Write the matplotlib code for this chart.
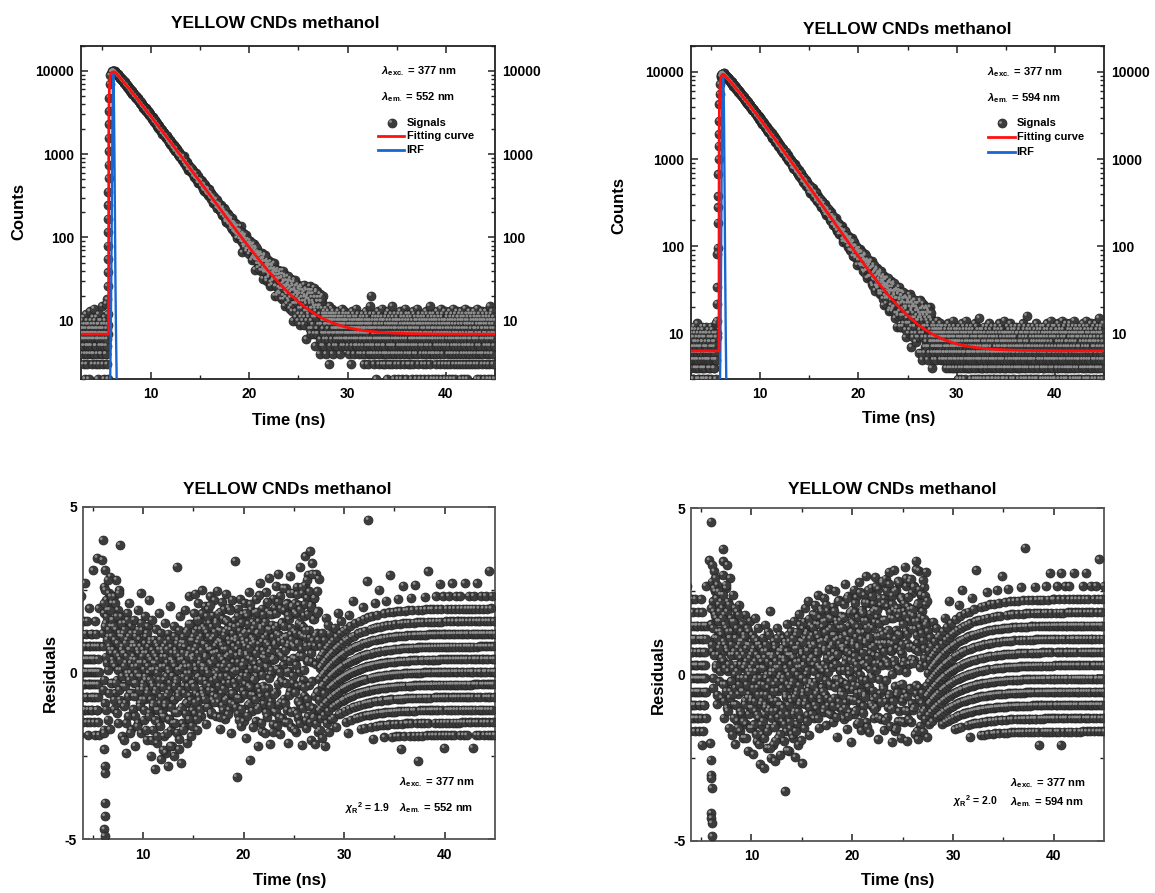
import numpy as np
import matplotlib
matplotlib.use("Agg")
import matplotlib.pyplot as plt
from matplotlib.lines import Line2D
from matplotlib.transforms import ScaledTranslation
from matplotlib.ticker import FixedLocator, FuncFormatter, NullFormatter

plt.rcParams.update({
    "font.family": ["Liberation Sans", "DejaVu Sans"],
    "font.weight": "bold",
    "axes.labelweight": "bold",
    "axes.unicode_minus": False,
    "mathtext.fontset": "custom",
    "mathtext.rm": "Liberation Sans",
    "mathtext.it": "Liberation Sans:italic",
    "mathtext.bf": "Liberation Sans:bold",
})

# ------------------------------------------------------------------ data
title = "YELLOW CNDs methanol"
lambda_exc = [377, 377]
lambda_em = [552, 594]
chi2_red = [1.9, 2.0]

# fitting-curve parameters (left = 552 nm, right = 594 nm)
fit_bg = [6.9, 6.3]
fit_amp = [9700.0, 9420.0]
fit_t_on = [5.68, 5.80]
fit_t_peak = [6.30, 6.24]
fit_rise = [0.08, 0.08]
fit_tau = [3.03, 3.20]
fit_beta = [1.06, 1.09]

# IRF (blue)
irf_t_552 = [5.80, 5.88, 5.95, 6.02, 6.08, 6.14, 6.20, 6.26, 6.32, 6.38, 6.44, 6.50, 6.56]
irf_c_552 = [1, 4, 30, 400, 3500, 9600, 7000, 1500, 200, 25, 6, 2, 1]
irf_t_594 = [5.86, 5.93, 6.00, 6.06, 6.12, 6.18, 6.24, 6.30, 6.36, 6.42, 6.48, 6.54, 6.60]
irf_c_594 = [1, 5, 40, 500, 3800, 8900, 9400, 4000, 600, 70, 12, 3, 1]

# rising-edge signal points
rise_t_552 = [5.56, 5.58, 5.60, 5.61, 5.62, 5.63, 5.64, 5.65, 5.66, 5.67, 5.68, 5.69,
              5.70, 5.72, 5.74, 5.76, 5.79, 5.83]
rise_c_552 = [18, 26, 38, 55, 80, 116, 168, 244, 354, 513, 744, 1080, 1560, 2270, 3290,
              4770, 6910, 8800]
rise_t_594 = [5.55, 5.57, 5.59, 5.61, 5.63, 5.65, 5.67, 5.69, 5.71, 5.73, 5.75, 5.77,
              5.79, 5.81, 5.84, 5.87, 5.90]
rise_c_594 = [9, 14, 22, 34, 82, 96, 187, 279, 376, 672, 1000, 1420, 1930, 2740, 4260,
              5550, 7230]

# pre-pulse background counts (one base-36 character per channel)
pre_span = [(2.90, 5.65), (2.95, 5.55)]
pre_counts_552 = ("7596a48763" "b58692747c" "6835a97465" "29786d5847" "a6579384b6"
                  "7e4869a573" "58b7642896" "c6937a5847" "6a48f59736" "8527b69a44"
                  "7g5836c927")
pre_counts_594 = ("6847a5936b" "3795c68a42" "7b58649d37" "5a6483b796" "26957a4c83"
                  "8b4695a372" "49c6785a36" "7a35b64298" "5684a7c391" "6b7925846a"
                  "47865d395a")

# decay region: weighted residuals (tenths) of the signal channels, two interleaved
# channel sets covering 6.0-27.5 ns
cloud_span_a = (6.0, 27.5)
cloud_span_b = (6.025, 27.525)
cloud_res_552 = [
    12, -5, 18, 26, -9, 31, 15, 22, 3, 19, -14, 11, 24, 8, -17, 29, 14, 6, 21, -3,
    16, 7, -11, 23, 2, -6, 13, 28, -2, 9, 19, -15, 5, 25, -8, 11, 1, 17, -19, 8,
    -4, 12, -20, 6, 15, -9, 3, -24, 10, 18, -1, -13, 7, 21, -6, 0, 14, -17, 4, 9,
    -11, 5, 16, -3, -22, 8, 12, -7, 2, 19, -15, 6, -1, 10, -9, 24, -18, 3, 13, -5,
    7, -14, 1, 17, -8, -2, 11, -20, 6, 14, -5, 0, 22, -12, 9, -25, 4, 16, -3, -10,
    -17, 3, 10, -29, -6, 13, 5, -11, -21, 8, 1, -15, 18, -4, -9, 12, -26, 2, 7, -13,
    6, -19, -2, 15, -10, -24, 9, -7, 3, -28, 12, -14, 0, 20, -5, -17, 8, -22, 4, -1,
    -8, 14, -25, 2, -12, 7, -3, 32, -18, 10, -6, -23, 5, 17, -11, 1, -27, 9, -15, 4,
    11, -4, -16, 8, 19, -9, 2, -21, 13, -2, 6, -14, 23, -7, 0, 15, -19, 5, -11, 10,
    -3, 18, 7, -12, 24, -6, 1, 13, -17, 9, 21, -1, -8, 16, 4, -13, 11, 25, -5, 2,
    14, -7, 9, 20, -2, 5, -15, 12, 1, 19, -10, 7, 15, -4, 23, -12, 3, 10, -8, 17,
    -5, 11, 22, 0, 8, -13, 16, -1, 25, 6, -9, 13, 2, -17, 18, 9, -6, 21, 4, -11,
    7, 19, -3, 12, -14, 24, 5, -8, 15, 1, 20, -11, 9, -2, 13, -18, 6, 22, -6, 10,
    3, -9, 16, 34, -4, 10, -31, 7, 19, -12, 1, 14, -7, 22, 5, -16, 11, -1, 18, 2,
    -14, 9, 21, -3, 13, -20, 6, 17, 0, -9, 24, 4, -26, 12, -5, 19, 8, -11, 15, -2,
    10, -6, 18, 3, -15, 22, -1, 12, -22, 7, 16, -10, 27, 1, -7, 14, -18, 20, 5, -3,
    -9, 15, 6, -18, 24, 2, 11, -13, 19, -4, 8, 28, -21, 13, 0, -8, 17, 4, -15, 22,
    5, -12, 20, 9, -5, 26, -16, 14, 1, 30, -9, 11, -19, 23, 6, -2, 16, -13, 10, 3,
    -7, 18, 11, -15, 25, 3, -10, 21, 7, -20, 15, 0, 29, -6, 12, -17, 19, 8, -3, 24,
    13, -11, 22, 5, -18, 17, 27, -4, 9, -14, 20, 1, 31, -9, 15, 6, -21, 24, 11, -2,
    18, -8, 25, 35, 10, -16, 22, 4, -12, 29, 14, -5, 38, 7, -19, 21, 2, 33, -10, 16,
    -14, 24, 9, -20, 30, 12, -7, 19, -17, 27]
cloud_res_552b = [
    8, 21, -2, 14, 25, 5, -11, 17, 10, 28, 1, 13, -6, 19, 7, 23, -3, 11, 16, 4,
    3, 14, -8, 10, 21, -3, 6, 17, -12, 9, 1, 24, -5, 12, 4, -9, 15, 7, -1, 11,
    6, -10, 2, 13, -4, 9, -15, 5, 0, 16, -7, 11, -2, 7, -18, 3, 12, -6, 8, -1,
    2, -7, 9, -13, 4, 11, -3, 0, -16, 7, 13, -5, 3, -10, 8, -1, 15, -8, 5, -4,
    -3, 6, -11, 9, -1, 3, -17, 12, -6, 2, 8, -13, 5, -2, 10, -8, 1, -20, 7, -4,
    -9, 1, 6, -14, 3, -5, 9, -19, 0, 4, -11, 7, -2, -16, 10, -7, 2, -12, 5, -23,
    -4, 8, -13, 2, -9, 5, -1, -18, 7, -6, 1, -14, 10, -3, -22, 4, -10, 6, -1, -15,
    3, -8, 11, -4, -15, 6, -2, 9, -12, 1, -7, 13, -20, 4, -5, 8, -10, 2, -17, 6,
    -1, 9, -6, 3, -12, 12, 0, -9, 5, -4, 15, -14, 2, 7, -8, 10, -3, -16, 4, 11,
    5, -4, 12, -9, 2, 8, -14, 16, -1, 6, -7, 10, 3, -11, 13, -2, 7, 18, -6, 1,
    9, 2, -8, 13, 5, -3, 17, -10, 8, 0, 11, -5, 20, 3, -12, 7, 14, -2, 6, -7,
    4, -9, 12, 6, -2, 15, -7, 9, 1, 18, -4, 10, -13, 5, 13, -1, 8, -10, 16, 2,
    -5, 11, 3, -8, 16, 7, -1, 13, -12, 5, 10, -3, 19, 2, -9, 14, 6, -6, 12, 0,
    8, -3, 14, 1, -10, 11, 5, -7, 17, 3, -14, 9, 13, -2, 6, -11, 15, 2, -5, 10,
    3, 12, -6, 8, 18, -1, 5, -13, 10, 15, -4, 7, -9, 21, 2, -7, 11, 4, -16, 13,
    -2, 9, 15, -8, 6, 1, 19, -11, 12, -4, 8, 23, -6, 3, 14, -15, 10, -1, 7, 17,
    11, -5, 4, 16, -12, 9, 2, 21, -7, 13, -2, 6, 18, -10, 7, 1, 15, -17, 10, 4,
    -6, 13, 8, -11, 17, 2, 12, -4, 22, 6, -13, 10, 1, 19, -8, 14, 5, -2, 25, 9,
    15, -9, 6, 20, -3, 11, 1, -14, 17, 8, -6, 24, 3, 13, -11, 9, 21, -1, 5, -16,
    7, 18, -5, 12, 2, -12, 23, 9, -8, 16, 4, -15, 20, 11, -3, 26, 6, -10, 14, 1,
    -4, 21, 13, -13, 8, 28, -7, 17, 3, -10, 24, 11, -16, 19, 6, -2, 30, 9, -12, 15,
    22, -8, 12, 3, -15, 18, 26, -5, 10, -11]
cloud_res_594 = [
    15, 28, 7, 22, -4, 19, 31, 11, 25, 2, 17, -9, 27, 13, 6, 21, -2, 16, 9, 24,
    12, -7, 20, 30, 4, -13, 18, 9, -3, 26, 14, -10, 7, 22, 1, -16, 11, 29, -5, 17,
    -2, 13, -18, 24, 6, -9, 16, 0, -21, 11, 3, 19, -14, 8, -6, 21, -1, -17, 10, 5,
    -12, 7, 15, -5, -19, 2, 11, -8, 18, -15, 4, -1, 9, -23, 13, -6, 0, 16, -10, 6,
    -7, 12, -16, 3, -24, 8, -2, 17, -11, 1, -20, 10, -4, 14, -13, 5, -27, 9, -1, -15,
    4, -18, -6, 11, -28, 2, -12, 15, -9, -1, 7, -22, 13, -4, -16, 6, -10, 19, -25, 0,
    -13, 5, -8, -21, 10, -3, -26, 8, -15, 2, -11, 14, -5, -19, 6, -1, 12, -24, 3, -9,
    7, -14, -2, 11, -20, 4, -35, 9, -7, -17, 15, 1, -12, 6, -23, 10, -4, -16, 13, -8,
    -3, 9, -19, 5, 16, -11, 1, -25, 12, -6, -15, 8, 2, -21, 18, -9, 4, -13, 10, -1,
    6, -27, 14, -5, 3, -16, 11, 20, -8, 0, 13, -12, 7, 22, -4, -18, 9, 15, -2, 5,
    12, -7, 18, 3, -13, 9, 21, -2, 15, -10, 6, 24, -5, 11, -16, 2, 17, -8, 8, 19,
    -4, 14, 1, -11, 23, 7, -6, 16, -15, 10, 2, 19, -9, 13, 26, -3, 8, -12, 17, 4,
    9, -14, 20, 5, -7, 12, 25, -1, 16, -19, 6, 11, -3, 22, -10, 14, 1, -6, 18, 8,
    -2, 17, 7, -13, 21, 3, 27, -8, 12, -16, 9, 24, -4, 15, 0, -11, 19, 6, -20, 13,
    16, -5, 10, 26, -12, 4, 19, -8, 23, 1, -15, 14, 8, -3, 28, -9, 12, 5, -17, 20,
    3, 18, -10, 13, 24, -6, 9, 29, -14, 16, 2, -4, 21, 11, -18, 15, 7, -1, 26, -9,
    14, -7, 22, 6, -13, 19, 30, 1, -10, 17, 9, -19, 25, 4, 12, -5, 21, -14, 8, 28,
    -3, 16, 10, -17, 23, 5, 29, -8, 13, -12, 20, 2, -6, 27, 11, -15, 18, 7, -20, 24,
    9, -11, 19, 31, 4, -16, 14, 25, -7, 21, 1, -13, 17, 28, -2, 11, -18, 23, 6, -9,
    22, 3, -14, 18, 32, -6, 12, 26, -19, 9, 20, -10, 15, 4, 29, -3, 17, -15, 24, 8,
    -12, 19, 27, 5, -17, 14, 33, -7, 22, 10, -20, 16, 30, -4, 13, -14, 25, 2, -9, 20,
    11, -16, 26, 6, -11, 21, 31, -5, 15, -18]
cloud_res_594b = [
    20, 9, 33, 14, -1, 26, 6, 18, 29, 3, 23, 11, -6, 16, 25, 8, 19, 1, 13, 22,
    5, 17, -3, 24, 10, -8, 15, 2, 27, -5, 8, 19, -11, 13, 3, 21, -7, 11, 6, -2,
    9, -6, 16, 2, -13, 7, 20, -4, 11, -9, 14, 1, -16, 6, 18, -3, 9, -11, 3, 13,
    -5, 10, -1, -14, 6, 12, -9, 3, -19, 8, -3, 14, -7, 1, -12, 9, 5, -16, 2, -8,
    1, -10, 7, -4, -15, 11, -8, 4, -1, -18, 6, -12, 9, -6, 2, -21, 5, -3, -9, 8,
    -8, 2, -14, 7, -3, -19, 5, -10, 9, -6, 0, -17, 4, -11, 12, -2, -22, 6, -7, 1,
    3, -11, 6, -5, -16, 1, 9, -20, 4, -8, -2, 11, -13, 2, -9, 7, -18, 0, 5, -12,
    -4, 8, -10, -1, 5, -15, 10, -6, 2, -23, 7, -3, 12, -9, 0, -14, 6, -7, 3, -18,
    6, -2, 11, -12, 1, -7, 8, -17, 4, 13, -5, 0, -11, 9, -3, 15, -8, 2, -20, 7,
    -1, 10, -6, 3, 16, -9, 5, -2, 12, -14, 7, 1, -5, 17, -10, 4, 11, -3, 8, -12,
    5, 14, -3, 9, 1, -9, 18, 4, -6, 12, 7, -13, 3, 15, -1, 10, -7, 20, 2, -4,
    10, -5, 16, 3, -10, 8, 13, -2, 21, 5, -7, 11, 1, -12, 17, 6, -3, 14, -8, 9,
    2, 12, -9, 7, 19, -4, 10, 3, -13, 15, 6, -1, 22, -8, 9, 1, 16, -5, 11, -11,
    14, -6, 8, 1, 17, -10, 12, 5, -3, 23, 7, -12, 10, 2, 18, -7, 4, 13, -1, 20,
    -8, 9, 15, -3, 6, 21, -11, 11, 3, -6, 17, 8, -14, 13, 25, 0, -5, 10, 19, -2,
    7, -12, 16, 4, -7, 22, 10, -2, 14, -15, 5, 26, -4, 12, 1, 18, -9, 8, 24, -1,
    -5, 19, 8, -10, 15, 3, 27, -6, 11, 20, -13, 6, 16, -2, 23, 9, -8, 13, 2, 29,
    12, -4, 21, 6, -14, 17, 9, -1, 25, 3, -9, 14, 31, -6, 10, 18, -11, 7, 22, 1,
    -7, 16, 4, 26, -3, 11, -16, 20, 8, -5, 28, 13, -10, 2, 18, 7, -13, 24, 10, -2,
    15, -8, 22, 5, -12, 17, 28, 1, -6, 12, 24, -14, 9, 19, -3, 30, 6, -9, 14, 21,
    4, 26, -11, 15, 9, -4, 32, 12, -16, 20, 7, -8, 27, 2, 17, -12, 23, 11, -6, 29,
    -10, 18, 8, 25, -13, 14, 3, -7, 21, 12]

# tail counts, 27.5-45 ns (one base-36 character per channel)
tail_span = (27.5, 45.0)
tail_counts_552 = (
    "a8c5b7d6ab9c4e7a9bc6a8d3b7f9ac5a7b9e6ca4b8d7a9c5b8"
    "79a6b8c5987ad69b7a84c9b6a7e8596b8a7c9d58a69b7a8c67"
    "6a8597b4c7869a3b87d5968a7c498b6a75e8697b5a8c6947a8"
    "7958a6b4976c8a5397b6848d7a69c5738b9a6475f89a6ck485"
    "6948a7b357c8649a27b8695d4a763b8c59674a8e6b3795a846"
    "5a7384b69c2748a6d5937b8465a9c37f5846b92a7548c6937a"
    "86b4927a5c6384d7a5926b8c4751a9368b5e7942a6c8573b94"
    "7a3c58694b2786a5d3967c4859b6a2748e5a9637b8c0926a57"
    "49b6738a5c2964b87a3d6594c7a2856b9f3748a6c5927b4a86"
    "6c8492a7b5368d4a9725c6b8473a9e5862b7c4a93586d7a219"
    "a5738b6c4927a58d3694b7a2c8654e9a37b6285c4a97d3658b"
    "7b4a69c3852d7a6b4938ca5726b4e8395a6c7248b9a53d6c74"
    "5968b3a7c41759d6a8b3c4682a7e95b36a48c2795b7a4d6938"
    "8a4c6b2795a3d8746b9c52a8364f7b59a2c68d4a7396b5827a")
tail_counts_594 = (
    "8a6c795b8d7a69c8b5a79e6b8a7c96a8b7d59a6c8b7a95c8a6"
    "6958a7b49c6857a8d6947b9a5c8694a7b58e69a74c8596b7a8"
    "584a6b3978c5a6948b7365d9a4785c6b3a967e4859a7b4c685"
    "4967a5b3864c7a5928b6473d59a6847c3a958b6473f5a8694b"
    "57394a6b4285c7936a48572b94c6375a8d3649b2758a4c6395"
    "3846a5927b4c6385a29764b8d3574a6c2958b4736a58e3947a"
    "64827a5c39648b2a75d4968a37c5b24968a3756b94c2857a46"
    "5a3764b28c5947a6382d5a749b63c5284a7g3956b84a72c653"
    "73b5946a2857c3a4968b5273d6a4938c7b52469a1857b3c694"
    "485a73c6294b8a563d7249b5a83c6275e4a9638b5274c9a356"
    "6c3957a4b2846d5a3972c8b4651a7e3958b4a62c7395d4a687"
    "3a8645b27c9d4a5836b2749a5c8e3967a4b5283c6a9475b396"
    "57a2c6384b9a5d6274a8c3596b4e7283a5c9647b3a852d4698"
    "94b6a375c2847a95d3686b42a7c5f94836a27b5c4a6938d572")

# isolated residual points at the rising edge (residual panels)
res_edge_t_552 = [5.94, 5.97, 6.10, 6.12, 6.15, 6.18, 6.20, 6.22, 6.20, 6.15, 6.17, 7.69]
res_edge_v_552 = [3.4, 4.0, -1.7, -1.8, -2.3, -2.8, -3.0, -3.9, -4.3, -4.7, -4.9, 3.85]
res_edge_t_594 = [5.83, 6.00, 5.92, 5.95, 6.00, 6.02, 6.05, 5.98, 6.03, 6.06, 6.10, 7.15, 7.20, 7.60]
res_edge_v_594 = [3.44, 4.6, -2.07, -2.57, -3.02, -3.12, -3.42, -4.17, -4.32, -4.47, -4.87, 3.78, 3.4, 3.3]

# ------------------------------------------------------------------ helpers
W, H = 1155, 893
fig = plt.figure(figsize=(W / 100, H / 100), dpi=100)

BALL_S = 42
BALL_FACE = "#3c3c3c"
BALL_EDGE = "#242424"
HILITE = "#8e8e8e"
RED = "#ff1010"
BLUE = "#1a66d0"


def px(x, y):
    return x / W, 1 - y / H


def decode(s):
    return np.array([int(c, 36) for c in s], dtype=float)


def fit_curve(t, k):
    t = np.asarray(t, dtype=float)
    y = np.full(t.shape, fit_bg[k])
    rising = (t >= fit_t_on[k]) & (t < fit_t_peak[k])
    y[rising] += fit_amp[k] * (1 - np.exp(-(t[rising] - fit_t_on[k]) / fit_rise[k]))
    decay = t >= fit_t_peak[k]
    y[decay] += fit_amp[k] * np.exp(-(((t[decay] - fit_t_peak[k]) / fit_tau[k]) ** fit_beta[k]))
    return y


def balls(ax, x, y):
    ax.scatter(x, y, s=BALL_S, c=BALL_FACE, edgecolors=BALL_EDGE, linewidths=0.5, zorder=3)
    hl = ax.transData + ScaledTranslation(-0.013, 0.013, fig.dpi_scale_trans)
    ax.scatter(x, y, s=BALL_S * 0.10, c=HILITE, edgecolors="none", zorder=3.2, transform=hl)


def style_axes(ax, spine_color):
    for sp in ax.spines.values():
        sp.set_color(spine_color)
        sp.set_linewidth(1.3)
    ax.tick_params(which="both", direction="in", top=True, right=True, colors="#222222",
                   labelcolor="black", labelsize=10)
    ax.tick_params(which="major", length=5, width=1.1)
    ax.tick_params(which="minor", length=3, width=1.0)
    ax.tick_params(axis="x", pad=6)
    ax.tick_params(axis="y", pad=4)


sets = [
    dict(pre=pre_counts_552, cloud=cloud_res_552, cloud_b=cloud_res_552b, tail=tail_counts_552,
         rise_t=rise_t_552, rise_c=rise_c_552, irf_t=irf_t_552, irf_c=irf_c_552,
         edge_t=res_edge_t_552, edge_v=res_edge_v_552),
    dict(pre=pre_counts_594, cloud=cloud_res_594, cloud_b=cloud_res_594b, tail=tail_counts_594,
         rise_t=rise_t_594, rise_c=rise_c_594, irf_t=irf_t_594, irf_c=irf_c_594,
         edge_t=res_edge_t_594, edge_v=res_edge_v_594),
]

top_rects = [[81 / W, 1 - 379 / H, 414 / W, 333.3 / H], [691 / W, 1 - 379 / H, 413 / W, 333.3 / H]]
bot_rects = [[82.7 / W, 1 - 839.3 / H, 412.3 / W, 332.6 / H], [691 / W, 1 - 840.7 / H, 413.3 / W, 332.4 / H]]
top_xlim = [(2.87, 45.0), (2.95, 45.0)]
top_ylim = [(2.0, 20000.0), (3.0, 20000.0)]

title_pos_top = [(275, 23), (907, 30)]
title_pos_bot = [(287.5, 489), (892.5, 489)]
xlabel_pos_top = [(288.5, 420), (899, 419)]
xlabel_pos_bot = [(290, 880), (897.5, 881)]
ylabel_pos_top = [(19, 212), (619, 205)]
ylabel_pos_bot = [(50, 673), (658, 675)]
ann_top = [dict(x=381, y1=74, y2=100.5), dict(x=986.7, y1=75, y2=101.5)]
leg_top = [dict(x0=378.3, x1=404, xb=391.7, xt=406.7, ys=122.7, yf=136, yi=150),
           dict(x0=988.3, x1=1015, xb=1001.7, xt=1016.7, ys=123.3, yf=136.7, yi=151.7)]
ann_bot = [dict(x=399.3, xc=345, y1=785, y2=811.5), dict(x=1010, xc=953, y1=786.5, y2=805)]

for k, d in enumerate(sets):
    # ---- channels
    pre = decode(d["pre"])
    t_pre = np.linspace(pre_span[k][0], pre_span[k][1], len(pre))
    res_a = np.array(d["cloud"], dtype=float) / 10.0
    res_b = np.array(d["cloud_b"], dtype=float) / 10.0
    t_a = np.linspace(cloud_span_a[0], cloud_span_a[1], len(res_a), endpoint=False)
    t_b = np.linspace(cloud_span_b[0], cloud_span_b[1], len(res_b), endpoint=False)
    t_cloud = np.concatenate([t_a, t_b])
    res_cloud = np.concatenate([res_a, res_b])
    f_cloud = fit_curve(t_cloud, k)
    c_cloud = np.maximum(np.round(f_cloud + res_cloud * np.sqrt(f_cloud)), 0)
    tail = decode(d["tail"])
    t_tail = np.linspace(tail_span[0], tail_span[1], len(tail))

    t_sig = np.concatenate([t_pre, np.array(d["rise_t"]), t_cloud, t_tail])
    c_sig = np.concatenate([pre, np.array(d["rise_c"], dtype=float), c_cloud, tail])

    # ---------------- top panel: decay
    ax = fig.add_axes(top_rects[k])
    style_axes(ax, "#222222")
    ax.set_yscale("log")
    ax.set_xlim(*top_xlim[k])
    ax.set_ylim(*top_ylim[k])
    vis = c_sig > 0
    balls(ax, t_sig[vis], c_sig[vis])
    t_line = np.arange(top_xlim[k][0], 45.0005, 0.005)
    ax.plot(d["irf_t"], d["irf_c"], color=BLUE, lw=1.7, zorder=4)
    ax.plot(t_line, fit_curve(t_line, k), color=RED, lw=2.0, zorder=5)
    ax.xaxis.set_major_locator(FixedLocator([10, 20, 30, 40]))
    ax.xaxis.set_minor_locator(FixedLocator([5, 15, 25, 35]))
    ax.yaxis.set_major_locator(FixedLocator([10, 100, 1000, 10000]))
    ax.yaxis.set_major_formatter(FuncFormatter(lambda v, p: "%d" % round(v)))
    minors = [m * 10 ** e for e in range(0, 5) for m in range(2, 10)]
    ax.yaxis.set_minor_locator(FixedLocator(minors))
    ax.yaxis.set_minor_formatter(NullFormatter())
    ax.tick_params(axis="y", labelright=True)
    ax.tick_params(axis="y", which="major", pad=5)

    fig.text(*px(*title_pos_top[k]), title, ha="center", va="center", fontsize=12.5, fontweight="bold")
    fig.text(*px(*xlabel_pos_top[k]), "Time (ns)", ha="center", va="center", fontsize=12, fontweight="bold")
    fig.text(*px(*ylabel_pos_top[k]), "Counts", ha="center", va="center", rotation=90,
             fontsize=12, fontweight="bold")

    a = ann_top[k]
    fig.text(*px(a["x"], a["y1"]), r"$\lambda_{\mathbf{exc.}}$ = %d nm" % lambda_exc[k],
             ha="left", va="baseline", fontsize=8, fontweight="bold")
    fig.text(*px(a["x"], a["y2"]), r"$\lambda_{\mathbf{em.}}$ = %d nm" % lambda_em[k],
             ha="left", va="baseline", fontsize=8, fontweight="bold")

    g = leg_top[k]
    xb, yb = px(g["xb"], g["ys"])
    fig.add_artist(Line2D([xb], [yb], marker="o", ms=np.sqrt(BALL_S), mfc=BALL_FACE,
                          mec=BALL_EDGE, mew=0.5, ls="none", transform=fig.transFigure))
    fig.add_artist(Line2D([xb - 1.3 / W], [yb + 1.3 / H], marker="o", ms=np.sqrt(BALL_S * 0.10),
                          mfc=HILITE, mec="none", ls="none", transform=fig.transFigure))
    for yy, col in ((g["yf"], RED), (g["yi"], BLUE)):
        x0, y0 = px(g["x0"], yy)
        x1, _ = px(g["x1"], yy)
        fig.add_artist(Line2D([x0, x1], [y0, y0], color=col, lw=2.0, transform=fig.transFigure))
    fig.text(*px(g["xt"], g["ys"]), "Signals", ha="left", va="center", fontsize=8, fontweight="bold")
    fig.text(*px(g["xt"], g["yf"]), "Fitting curve", ha="left", va="center", fontsize=8, fontweight="bold")
    fig.text(*px(g["xt"], g["yi"]), "IRF", ha="left", va="center", fontsize=8, fontweight="bold")

    # ---------------- bottom panel: residuals
    bx = fig.add_axes(bot_rects[k])
    style_axes(bx, "#555555")
    bx.set_xlim(4, 45)
    bx.set_ylim(-5, 5)
    r_pre = (pre - fit_bg[k]) / np.sqrt(fit_bg[k])
    r_cloud = (c_cloud - f_cloud) / np.sqrt(f_cloud)
    f_tail = fit_curve(t_tail, k)
    r_tail = (tail - f_tail) / np.sqrt(f_tail)
    t_res = np.concatenate([t_pre, np.array(d["edge_t"]), t_cloud, t_tail])
    v_res = np.concatenate([r_pre, np.array(d["edge_v"]), r_cloud, r_tail])
    balls(bx, t_res, v_res)
    bx.xaxis.set_major_locator(FixedLocator([10, 20, 30, 40]))
    bx.xaxis.set_minor_locator(FixedLocator([5, 15, 25, 35]))
    bx.yaxis.set_major_locator(FixedLocator([-5, 0, 5]))
    bx.yaxis.set_minor_locator(FixedLocator([-2.5, 2.5]))
    bx.yaxis.set_major_formatter(FuncFormatter(lambda v, p: "%d" % round(v)))

    fig.text(*px(*title_pos_bot[k]), title, ha="center", va="center", fontsize=12.5, fontweight="bold")
    fig.text(*px(*xlabel_pos_bot[k]), "Time (ns)", ha="center", va="center", fontsize=12, fontweight="bold")
    fig.text(*px(*ylabel_pos_bot[k]), "Residuals", ha="center", va="center", rotation=90,
             fontsize=12, fontweight="bold")
    a = ann_bot[k]
    fig.text(*px(a["x"], a["y1"]), r"$\lambda_{\mathbf{exc.}}$ = %d nm" % lambda_exc[k],
             ha="left", va="baseline", fontsize=8, fontweight="bold")
    fig.text(*px(a["x"], a["y2"]), r"$\lambda_{\mathbf{em.}}$ = %d nm" % lambda_em[k],
             ha="left", va="baseline", fontsize=8, fontweight="bold")
    fig.text(*px(a["xc"], a["y2"]), r"$\chi_{\mathbf{R}}$$^{\mathbf{2}}$ = %.1f" % chi2_red[k],
             ha="left", va="baseline", fontsize=7.5, fontweight="bold")

fig.savefig("out.png", dpi=100)
